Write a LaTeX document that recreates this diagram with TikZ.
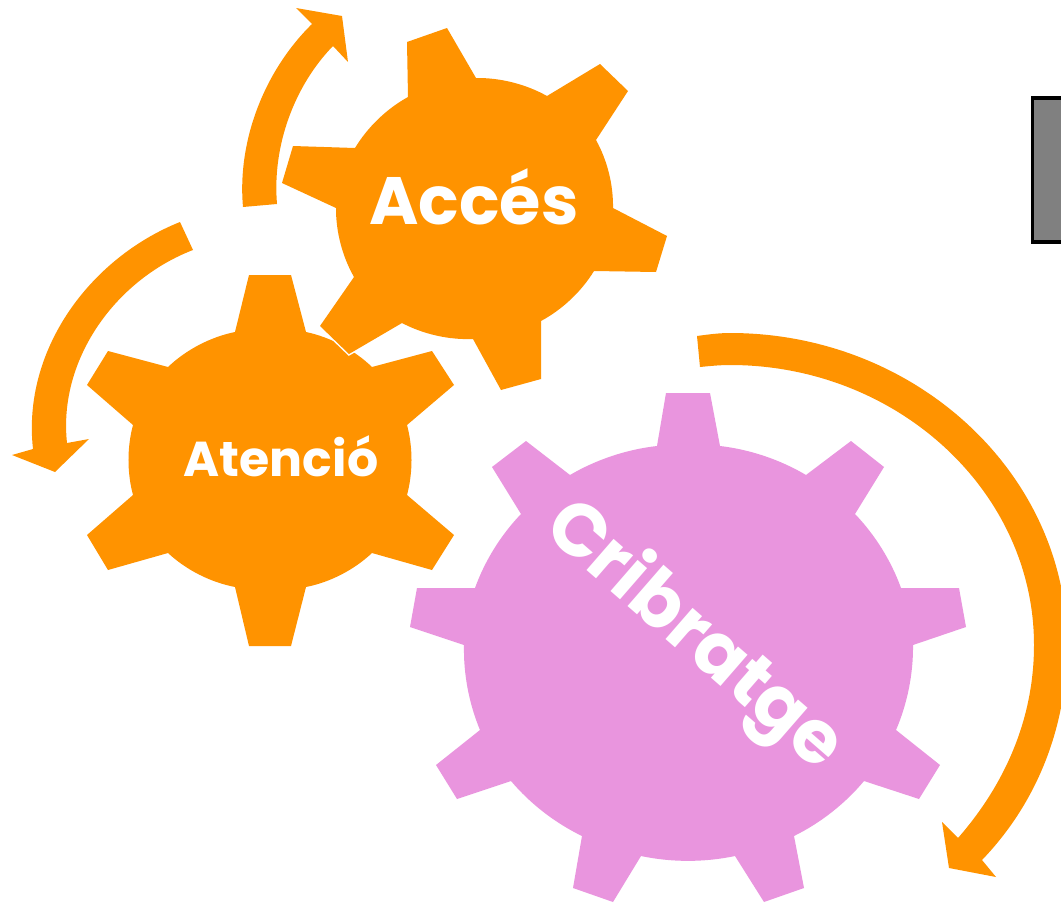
\documentclass[tikz,border=0pt]{standalone}
\usepackage{fontspec}
\setmainfont{Poppins}
\usepackage{xcolor}
\definecolor{gearorange}{HTML}{FF9300}
\definecolor{gearpink}{HTML}{E995DE}
\definecolor{boxgray}{HTML}{808080}
\tikzset{
    gear/.style={preaction={draw=white,line width=3pt},fill=#1},
    gap/.style={bend left=#1,looseness=0.85},
    turnarrow/.style={fill=gearorange},
    gearlabel/.style={text=white,font=\bfseries\fontsize{#1}{#1}\selectfont,inner sep=0pt}
}

\begin{document}
\begin{tikzpicture}[x=1pt,y=-1pt]
    \useasboundingbox (0,0) rectangle (1061,905);
    \clip (0,0) rectangle (1061,905);

    % box on the right
    \draw[fill=boxgray,line width=3.5pt] (1032.5,98) rectangle (1080,242);

    % rotation arrows
    \path[turnarrow] (243,207) .. controls (237,140) and (265,70) .. (312,24) -- (296,8) -- (342,16) -- (348,62)
        -- (333,46) .. controls (295,85) and (272,145) .. (277,204) -- cycle;
    \path[turnarrow] (180,222) .. controls (90,258) and (22,350) .. (33,449) -- (12,455) -- (55,472) -- (89,439)
        -- (67,443) .. controls (58,360) and (115,280) .. (193,250) -- cycle;
    \path[turnarrow] (697,336) .. controls (708,334.5) and (719,333) .. (730,333) .. controls (915,333) and (1067,473) .. (1067,645)
        .. controls (1067,730) and (1035,805) .. (982,860)
        -- (996,877) -- (949,868) -- (942,822) -- (958,838)
        .. controls (1000,790) and (1034,725) .. (1034,645) .. controls (1034,491) and (897,365) .. (730,365)
        .. controls (720,365) and (710,366) .. (700,367) -- cycle;

    % gears
    \path[gear=gearorange] (249,275) -- (291,275) -- (306,332) to[gap=16] (372,367)
        -- (432,351) -- (454,385) -- (407,425) to[gap=15] (407,495)
        -- (454,535) -- (432,570) -- (372,553) to[gap=16] (306,587)
        -- (291,646) -- (249,646) -- (235,587) to[gap=16] (168,553)
        -- (108,570) -- (87,535) -- (133,495) to[gap=15] (133,425)
        -- (87,385) -- (108,351) -- (168,367) to[gap=16] (235,332) -- cycle;
    \path[gear=gearorange] (407,42) -- (447,28) -- (476,78) to[gap=15] (547,96)
        -- (600,64) -- (628,91) -- (596,140) to[gap=15] (613,208)
        -- (667,236) -- (656,272) -- (594,271) to[gap=15] (541,321)
        -- (541,379) -- (501,390) -- (473,339) to[gap=15] (402,323)
        -- (349,354) -- (320,326) -- (354,277) to[gap=15] (336,208)
        -- (282,183) -- (293,146) -- (355,148) to[gap=15] (408,97) -- cycle;
    \path[gear=gearpink] (666,393) -- (710,393) -- (720,446) to[gap=12] (806,475)
        -- (851,441) -- (884,467) -- (855,514) to[gap=12] (901,588)
        -- (959,588) -- (966,627) -- (913,645) to[gap=12] (896,730)
        -- (940,765) -- (919,799) -- (864,781) to[gap=12] (794,836)
        -- (804,888) -- (764,902) -- (735,856) to[gap=12] (641,856)
        -- (613,902) -- (573,888) -- (582,836) to[gap=12] (511,781)
        -- (457,799) -- (436,765) -- (480,730) to[gap=12] (464,645)
        -- (410,627) -- (417,588) -- (475,588) to[gap=12] (521,514)
        -- (492,467) -- (526,441) -- (570,475) to[gap=12] (657,446) -- cycle;

    \node[gearlabel=67] (acces) at (474,197) {Accés};
    \node[gearlabel=49] (atencio) at (281,456) {Atenció};
    \node[gearlabel=74,rotate=-41] (cribratge) at (693,637) {Cribratge};
\end{tikzpicture}
\end{document}
